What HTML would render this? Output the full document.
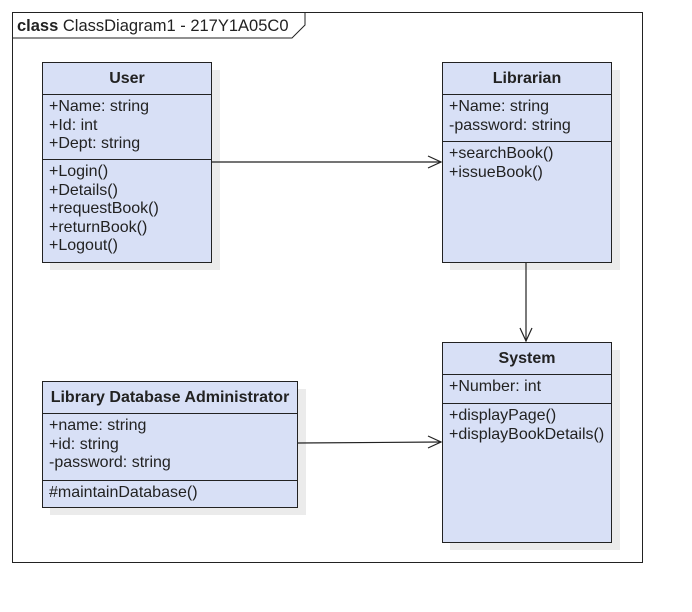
<!DOCTYPE html>
<html><head><style>
body{margin:0;width:692px;height:612px;background:#fff;font-family:"Liberation Sans",Arial,sans-serif;position:relative;overflow:hidden}
.b{position:absolute;background:#d8e0f6;border:1px solid #222;box-sizing:border-box;font-size:16px;color:#222}
.s{position:absolute;background:#ebebeb}
.h{font-weight:bold;text-align:center;border-bottom:1px solid #222;box-sizing:border-box}
.c{border-bottom:1px solid #222;box-sizing:border-box;padding:3px 0 0 6px;line-height:18.5px}
.m{padding:3px 0 0 6px;line-height:18.5px}
</style></head><body>
<div style="position:absolute;left:12px;top:12px;width:631px;height:551px;border:1px solid #222;box-sizing:border-box"></div>
<svg style="position:absolute;left:0;top:0" width="692" height="612">
<polyline points="12,38 292,38 305,25 305,12" fill="none" stroke="#222" stroke-width="1"/>
<text x="17" y="31" font-size="16.5" font-family="Liberation Sans,Arial,sans-serif" fill="#222"><tspan font-weight="bold">class</tspan> ClassDiagram1 - 217Y1A05C0</text>
</svg>
<div class="s" style="left:50px;top:70px;width:170px;height:200px"></div>
<div class="s" style="left:450px;top:70px;width:170px;height:200px"></div>
<div class="s" style="left:450px;top:350px;width:170px;height:200px"></div>
<div class="s" style="left:50px;top:389px;width:256px;height:126px"></div>
<div class="b" style="left:42px;top:62px;width:170px;height:201px">
<div class="h" style="height:32px;line-height:31px">User</div>
<div class="c" style="height:65px">+Name: string<br>+Id: int<br>+Dept: string</div>
<div class="m">+Login()<br>+Details()<br>+requestBook()<br>+returnBook()<br>+Logout()</div></div>
<div class="b" style="left:442px;top:62px;width:170px;height:201px">
<div class="h" style="height:32px;line-height:31px">Librarian</div>
<div class="c" style="height:47px">+Name: string<br>-password: string</div>
<div class="m">+searchBook()<br>+issueBook()</div></div>
<div class="b" style="left:442px;top:342px;width:170px;height:201px">
<div class="h" style="height:32px;line-height:31px">System</div>
<div class="c" style="height:29px">+Number: int</div>
<div class="m">+displayPage()<br>+displayBookDetails()</div></div>
<div class="b" style="left:42px;top:381px;width:256px;height:127px">
<div class="h" style="height:32px;line-height:31px">Library Database Administrator</div>
<div class="c" style="height:67px">+name: string<br>+id: string<br>-password: string</div>
<div class="m" style="padding-top:3px">#maintainDatabase()</div></div>
<svg style="position:absolute;left:0;top:0" width="692" height="612" fill="none" stroke="#222" stroke-width="1.2">
<line x1="212" y1="162" x2="441" y2="162"/><polyline points="428,156 441,162 428,168"/>
<line x1="526" y1="263" x2="526" y2="341"/><polyline points="520,328 526,341 532,328"/>
<line x1="298" y1="443" x2="441" y2="442"/><polyline points="428,436 441,442 428,448"/>
</svg>
</body></html>
